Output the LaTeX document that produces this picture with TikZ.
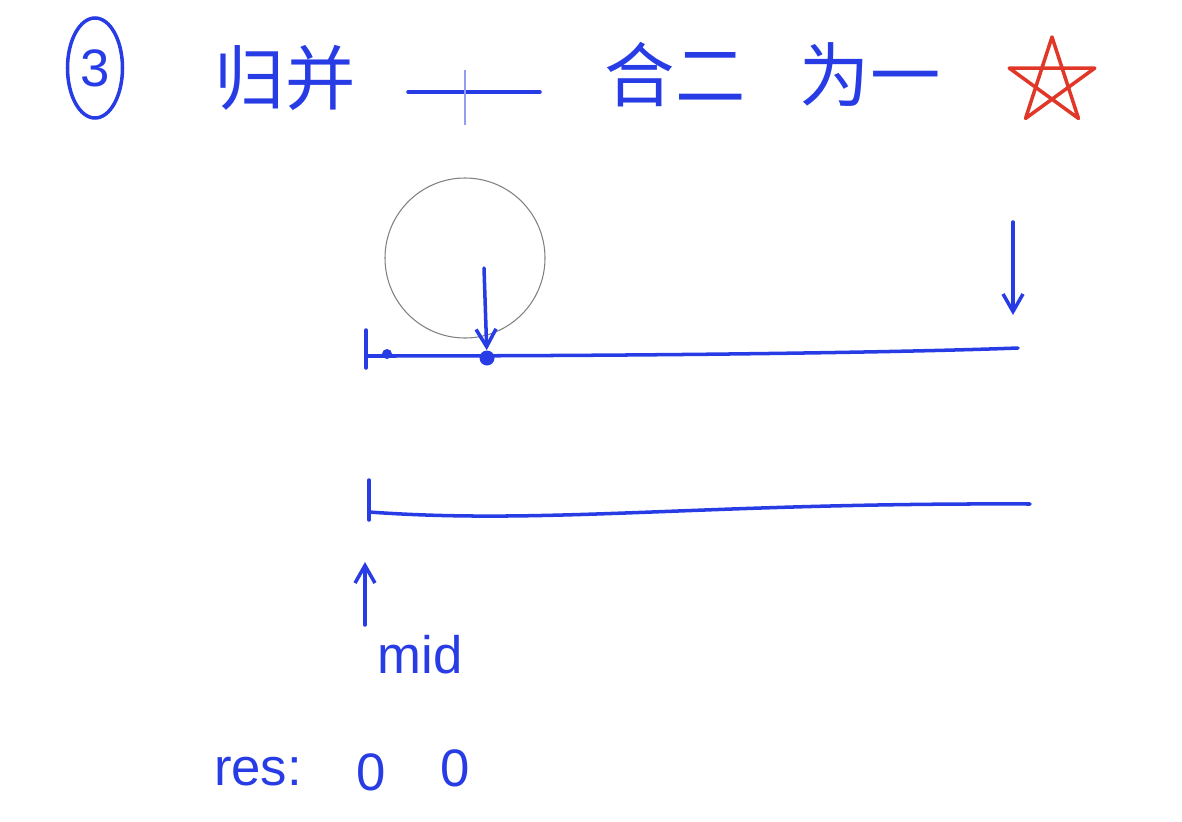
\documentclass[tikz,border=0pt]{standalone}
\usepackage{fontspec}
\setmainfont{Liberation Sans}
\newfontfamily\cjk{Noto Sans CJK SC}
\usetikzlibrary{arrows.meta,shapes.geometric}

\definecolor{pen}{RGB}{40,60,230}
\definecolor{penred}{RGB}{225,55,40}

\begin{document}
\begin{tikzpicture}[
  ink/.style={draw=pen,line width=2pt,line cap=round},
  word/.style={text=pen,inner sep=0pt,font=\cjk\fontsize{40}{40}\selectfont},
  latin/.style={text=pen,inner sep=0pt,font=\fontsize{30}{30}\selectfont},
  dot/.style={circle,fill=pen,inner sep=0pt,minimum size=#1},
  arr/.style={ink,-{Straight Barb[length=3.5mm,width=4mm]}}
]
  \useasboundingbox (0,0) rectangle (23.64,-16.42);

  % title
  \node[ink,ellipse,minimum width=1.1cm,minimum height=2cm,inner sep=0pt,
        text=pen,font=\fontsize{30}{30}\selectfont] (num) at (1.9,-1.36) {3};
  \node[word] (gb) at (5.7,-1.56) {归并};
  \coordinate (dl) at (8.16,-1.84);
  \coordinate (dr) at (10.8,-1.84);
  \draw[ink] (dl) -- (dr);
  \draw[pen!50,line width=0.6pt] (9.3,-1.4) -- (9.3,-2.5);
  \node[word] (he) at (13.5,-1.5) {合二};
  \node[word] (wy) at (17.4,-1.5) {为一};
  \coordinate (star) at (21.04,-1.64);
  \draw[draw=penred,line width=2pt,line join=round]
    (star) +(90:0.9) -- +(234:0.9) -- +(18:0.9) -- +(162:0.9) -- +(306:0.9) -- cycle;

  % first array
  \draw[gray,line width=0.6pt] (9.3,-5.16) circle (1.6);
  \coordinate (a0) at (7.32,-7.12);
  \coordinate (a1) at (20.36,-6.96);
  \draw[ink] (7.32,-6.6) -- (7.32,-7.36);
  \draw[ink] (a0) .. controls (13,-7.12) and (18,-7.05) .. (a1);
  \node[dot=2mm] (p0) at (7.74,-7.08) {};
  \node[dot=3mm] (p1) at (9.74,-7.16) {};
  \coordinate (q0) at (9.68,-5.36);
  \draw[arr] (q0) -- (p1);
  \coordinate (q1) at (20.26,-4.44);
  \coordinate (q2) at (20.26,-6.3);
  \draw[arr] (q1) -- (q2);

  % second array
  \coordinate (b0) at (7.38,-10.24);
  \coordinate (b1) at (20.6,-10.08);
  \draw[ink] (7.38,-9.6) -- (7.38,-10.4);
  \draw[ink] (b0) .. controls (11,-10.5) and (14,-10.05) .. (b1);
  \coordinate (m0) at (7.3,-12.5);
  \coordinate (m1) at (7.3,-11.24);
  \draw[arr] (m0) -- (m1);
  \node[latin] (mid) at (8.4,-13.1) {mid};

  % result
  \node[latin] (res) at (5.16,-15.44) {res:};
  \node[latin] (r0) at (7.42,-15.44) {0};
  \node[latin] (r1) at (9.1,-15.36) {0};
\end{tikzpicture}
\end{document}
